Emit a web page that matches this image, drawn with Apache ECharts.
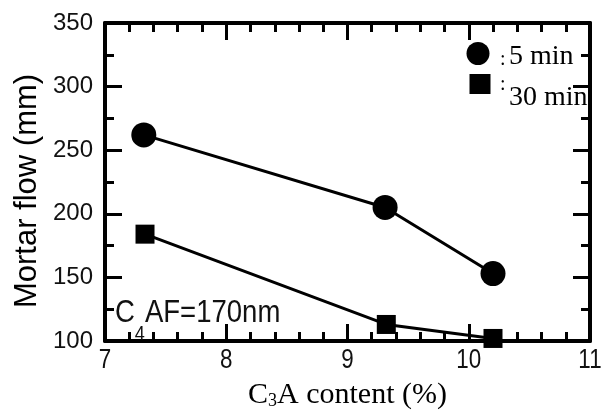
<!DOCTYPE html>
<html><head><meta charset="utf-8">
<script src="https://cdn.jsdelivr.net/npm/echarts@6/dist/echarts.min.js"></script>
<style>html,body{margin:0;padding:0;background:#fff}#c{width:606px;height:415px}</style>
</head><body><div id="c"></div>
<script>
// ---- data ----
const xTicks = [7, 8, 9, 10, 11];
const yTicks = [100, 150, 200, 250, 300, 350];
const seriesNames = ['5 min', '30 min'];
const c3a5min = [7.32, 9.31, 10.20];
const flow5min = [262, 205, 153];
const c3a30min = [7.33, 9.32, 10.20];
const flow30min = [184, 113, 102];

const SANS = '"Liberation Sans", Arial, sans-serif';
const SERIF = '"Liberation Serif", "Times New Roman", serif';
const NARROW_SCALE = 0.8;

const chart = echarts.init(document.getElementById('c'), null, {renderer: 'canvas'});

const axLine = {show: true, onZero: false, lineStyle: {color: '#000', width: 4}};
const axTick = {show: true, inside: true, length: 17, lineStyle: {color: '#000', width: 3}};
function minor(n) { return {show: true, splitNumber: n, length: 9, lineStyle: {color: '#000', width: 3}}; }

const xMin = xTicks[0], xMax = xTicks[xTicks.length - 1], xStep = xTicks[1] - xTicks[0];
const yMin = yTicks[0], yMax = yTicks[yTicks.length - 1], yStep = yTicks[1] - yTicks[0];

function xAx(pos) {
  return {
    type: 'value', position: pos, min: xMin, max: xMax, interval: xStep,
    axisLine: axLine, axisTick: axTick, minorTick: minor(5), splitLine: {show: false},
    axisLabel: {show: false}
  };
}
function yAx(pos, labels) {
  return {
    type: 'value', position: pos, min: yMin, max: yMax, interval: yStep,
    axisLine: axLine, axisTick: axTick, minorTick: minor(2), splitLine: {show: false},
    axisLabel: labels ? {show: true, margin: 12, color: '#111', fontSize: 24, fontFamily: SANS,
                          padding: [0, 0, 2, 0]} : {show: false}
  };
}

const xA = xAx('bottom');
xA.name = '{a|C}{s|3}{a|A content (%)}';
xA.nameLocation = 'middle';
xA.nameGap = 39;
xA.nameTextStyle = {
  rich: {
    a: {fontFamily: SERIF, fontSize: 30, lineHeight: 30, color: '#000', verticalAlign: 'bottom'},
    s: {fontFamily: SERIF, fontSize: 18, lineHeight: 18, color: '#000', verticalAlign: 'bottom'}
  }
};

const staticGraphic = [
  {id: 'ytitle', type: 'text', x: 27, y: 191, rotation: Math.PI / 2,
   style: {text: 'Mortar flow (mm)', fontSize: 31, fontFamily: SANS, fill: '#000', align: 'center', verticalAlign: 'middle'}},
  {id: 'c4af', type: 'text', x: 115, y: 297.5, z: 10, scaleX: 0.86,
   style: {
     text: '{a|C}{s|4}{a|AF=170nm}', fill: '#111', align: 'left', verticalAlign: 'top',
     rich: {
       a: {fontFamily: SANS, fontSize: 32, lineHeight: 32, verticalAlign: 'top', fill: '#111'},
       s: {fontFamily: SANS, fontSize: 21, lineHeight: 21, padding: [26, 0, 0, 0], verticalAlign: 'top', fill: '#111'}
     }
   }},
  // legend
  {id: 'lg1', type: 'circle', shape: {cx: 478, cy: 53.5, r: 11.5}, style: {fill: '#000'}},
  {id: 'lg2', type: 'rect', shape: {x: 469.5, y: 74, width: 21, height: 20}, style: {fill: '#000'}},
  {id: 'lc1', type: 'text', x: 500, y: 59.5, style: {text: ':', fontSize: 20, fontFamily: SERIF, fill: '#000', align: 'left', verticalAlign: 'middle'}},
  {id: 'lc2', type: 'text', x: 500, y: 85, style: {text: ':', fontSize: 20, fontFamily: SERIF, fill: '#000', align: 'left', verticalAlign: 'middle'}},
  {id: 'lt1', type: 'text', x: 509, y: 57, style: {text: seriesNames[0], fontSize: 28, fontFamily: SERIF, fill: '#000', align: 'left', verticalAlign: 'middle'}},
  {id: 'lt2', type: 'text', x: 509, y: 97.5, style: {text: seriesNames[1], fontSize: 28, fontFamily: SERIF, fill: '#000', align: 'left', verticalAlign: 'middle'}}
];

chart.setOption({
  animation: false,
  backgroundColor: '#fff',
  grid: {left: 105, top: 23, width: 485, height: 321.5, containLabel: false},
  xAxis: [xA, xAx('top')],
  yAxis: [yAx('left', true), yAx('right', false)],
  series: [
    {
      type: 'line', name: seriesNames[0], clip: false, z: 3,
      data: c3a5min.map((x, i) => [x, flow5min[i]]),
      symbol: 'circle', symbolSize: 25,
      lineStyle: {color: '#000', width: 3}, itemStyle: {color: '#000'}
    },
    {
      type: 'line', name: seriesNames[1], clip: false, z: 3,
      data: c3a30min.map((x, i) => [x, flow30min[i]]),
      symbol: 'rect', symbolSize: 19,
      lineStyle: {color: '#000', width: 3}, itemStyle: {color: '#000'}
    }
  ],
  graphic: staticGraphic
});

// x tick labels: condensed look, positioned through the axis scale
const axisY = chart.convertToPixel({yAxisIndex: 0}, yMin);
const xLabelGraphic = xTicks.map((v, i) => ({
  id: 'xl' + i, type: 'text',
  x: chart.convertToPixel({xAxisIndex: 0}, v), y: axisY + 5, scaleX: NARROW_SCALE,
  style: {text: String(v), fontSize: 28, fontFamily: SANS, fill: '#111', align: 'center', verticalAlign: 'top'}
}));
chart.setOption({graphic: staticGraphic.concat(xLabelGraphic)});
</script></body></html>
